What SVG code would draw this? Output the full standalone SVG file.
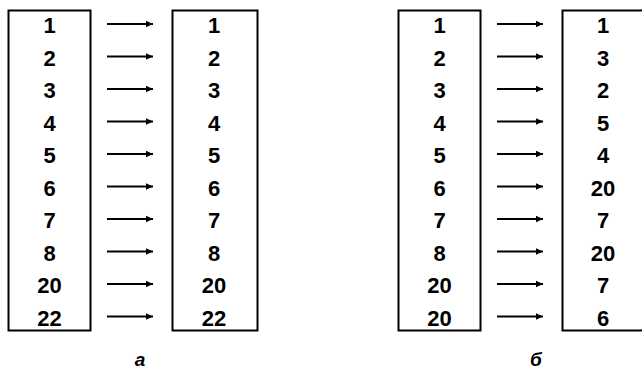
<svg xmlns="http://www.w3.org/2000/svg" width="642" height="371" viewBox="0 0 642 371">
<style>
.box{fill:none;stroke:#000;stroke-width:2}
.t{font-family:"Liberation Sans",Arial,sans-serif;font-weight:bold;font-size:22px;text-anchor:middle;fill:#000}
.lab{font-family:"Liberation Sans",Arial,sans-serif;font-weight:bold;font-style:italic;font-size:19px;text-anchor:middle;fill:#000}
.arr{stroke:#000;stroke-width:2;fill:none;marker-end:url(#ah)}
</style>
<defs>
<marker id="ah" markerWidth="8" markerHeight="8" refX="7" refY="4" orient="auto" markerUnits="userSpaceOnUse">
<path d="M0,0.8 L7,4 L0,7.2 z" fill="#000"/>
</marker>
</defs>
<rect width="642" height="371" fill="#fff"/>
<g id="a-left">
<rect class="box" x="8.5" y="10.5" width="82" height="320"/>
<text class="t" x="49.5" y="33">1</text>
<text class="t" x="49.5" y="65.5">2</text>
<text class="t" x="49.5" y="98">3</text>
<text class="t" x="49.5" y="130.5">4</text>
<text class="t" x="49.5" y="163">5</text>
<text class="t" x="49.5" y="195.5">6</text>
<text class="t" x="49.5" y="228">7</text>
<text class="t" x="49.5" y="260.5">8</text>
<text class="t" x="49.5" y="293">20</text>
<text class="t" x="49.5" y="325.5">22</text>
</g>
<g id="a-right">
<rect class="box" x="172.5" y="10.5" width="85" height="320"/>
<text class="t" x="214" y="33">1</text>
<text class="t" x="214" y="65.5">2</text>
<text class="t" x="214" y="98">3</text>
<text class="t" x="214" y="130.5">4</text>
<text class="t" x="214" y="163">5</text>
<text class="t" x="214" y="195.5">6</text>
<text class="t" x="214" y="228">7</text>
<text class="t" x="214" y="260.5">8</text>
<text class="t" x="214" y="293">20</text>
<text class="t" x="214" y="325.5">22</text>
</g>
<g id="b-left">
<rect class="box" x="398.5" y="10.5" width="82" height="320"/>
<text class="t" x="439.5" y="33">1</text>
<text class="t" x="439.5" y="65.5">2</text>
<text class="t" x="439.5" y="98">3</text>
<text class="t" x="439.5" y="130.5">4</text>
<text class="t" x="439.5" y="163">5</text>
<text class="t" x="439.5" y="195.5">6</text>
<text class="t" x="439.5" y="228">7</text>
<text class="t" x="439.5" y="260.5">8</text>
<text class="t" x="439.5" y="293">20</text>
<text class="t" x="439.5" y="325.5">20</text>
</g>
<g id="b-right">
<rect class="box" x="562.5" y="10.5" width="100" height="320"/>
<text class="t" x="603" y="33">1</text>
<text class="t" x="603" y="65.5">3</text>
<text class="t" x="603" y="98">2</text>
<text class="t" x="603" y="130.5">5</text>
<text class="t" x="603" y="163">4</text>
<text class="t" x="603" y="195.5">20</text>
<text class="t" x="603" y="228">7</text>
<text class="t" x="603" y="260.5">20</text>
<text class="t" x="603" y="293">7</text>
<text class="t" x="603" y="325.5">6</text>
</g>
<g id="connectors">
<line class="arr" x1="107" y1="24" x2="153" y2="24"/>
<line class="arr" x1="107" y1="56.5" x2="153" y2="56.5"/>
<line class="arr" x1="107" y1="89" x2="153" y2="89"/>
<line class="arr" x1="107" y1="121.5" x2="153" y2="121.5"/>
<line class="arr" x1="107" y1="154" x2="153" y2="154"/>
<line class="arr" x1="107" y1="186.5" x2="153" y2="186.5"/>
<line class="arr" x1="107" y1="219" x2="153" y2="219"/>
<line class="arr" x1="107" y1="251.5" x2="153" y2="251.5"/>
<line class="arr" x1="107" y1="284" x2="153" y2="284"/>
<line class="arr" x1="107" y1="316.5" x2="153" y2="316.5"/>
<line class="arr" x1="497" y1="24" x2="543" y2="24"/>
<line class="arr" x1="497" y1="56.5" x2="543" y2="56.5"/>
<line class="arr" x1="497" y1="89" x2="543" y2="89"/>
<line class="arr" x1="497" y1="121.5" x2="543" y2="121.5"/>
<line class="arr" x1="497" y1="154" x2="543" y2="154"/>
<line class="arr" x1="497" y1="186.5" x2="543" y2="186.5"/>
<line class="arr" x1="497" y1="219" x2="543" y2="219"/>
<line class="arr" x1="497" y1="251.5" x2="543" y2="251.5"/>
<line class="arr" x1="497" y1="284" x2="543" y2="284"/>
<line class="arr" x1="497" y1="316.5" x2="543" y2="316.5"/>
</g>
<text class="lab" x="140" y="366">а</text>
<text class="lab" x="536" y="366">б</text>
</svg>
